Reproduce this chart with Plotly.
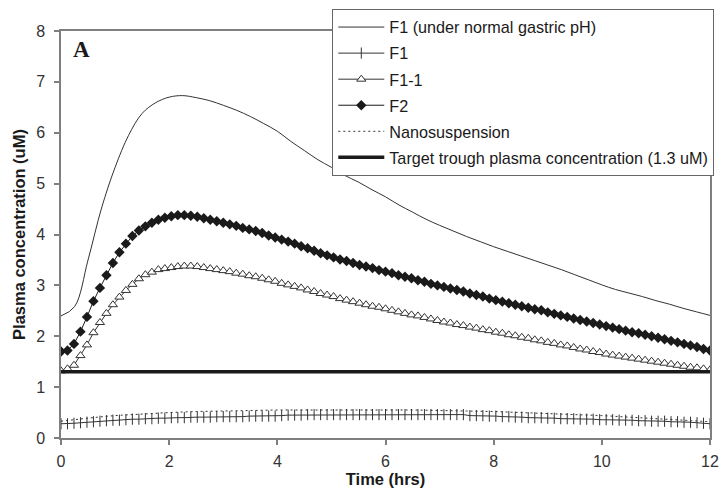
import plotly.graph_objects as go

# time grid (hrs) used for the marker series: 101 samples from 0 to 12
time_hrs = [round(0.12 * i, 2) for i in range(101)]
# time grid for the plain-line series
time_line = [0, 0.25, 0.5, 0.75, 1, 1.25, 1.5, 1.75, 2, 2.25, 2.5, 2.75, 3, 3.25, 3.5,
             3.75, 4, 4.25, 4.5, 4.75, 5, 5.25, 5.5, 5.75, 6, 6.25, 6.5, 6.75, 7, 7.25,
             7.5, 7.75, 8, 8.25, 8.5, 8.75, 9, 9.25, 9.5, 9.75, 10, 10.25, 10.5, 10.75,
             11, 11.25, 11.5, 11.75, 12]

f1_normal = [2.40, 2.58, 3.50, 4.52, 5.32, 5.95, 6.38, 6.59, 6.70, 6.73, 6.69, 6.63, 6.54,
             6.44, 6.32, 6.18, 6.03, 5.83, 5.65, 5.47, 5.32, 5.16, 5.03, 4.88, 4.74, 4.58,
             4.44, 4.30, 4.18, 4.07, 3.96, 3.86, 3.76, 3.67, 3.58, 3.49, 3.40, 3.31, 3.21,
             3.11, 3.01, 2.92, 2.85, 2.78, 2.70, 2.63, 2.55, 2.48, 2.41]

nano_time = [0, 0.5, 1, 1.5, 2, 2.5, 3, 3.5, 4, 4.5, 5, 5.5, 6, 6.5, 7, 7.5, 8, 8.5, 9,
             9.5, 10, 10.5, 11, 11.5, 12]
nanosuspension = [0.33, 0.39, 0.44, 0.47, 0.50, 0.52, 0.53, 0.54, 0.55, 0.55, 0.55, 0.55,
                  0.55, 0.55, 0.54, 0.53, 0.52, 0.50, 0.48, 0.46, 0.44, 0.41, 0.38, 0.35, 0.32]

f1 = [0.28, 0.28, 0.29, 0.30, 0.31, 0.32, 0.33, 0.34, 0.35, 0.35,
      0.36, 0.37, 0.37, 0.38, 0.38, 0.39, 0.39, 0.40, 0.40, 0.40,
      0.41, 0.41, 0.41, 0.41, 0.42, 0.42, 0.42, 0.42, 0.42, 0.43,
      0.43, 0.43, 0.43, 0.43, 0.44, 0.45, 0.45, 0.45, 0.46, 0.46,
      0.46, 0.46, 0.46, 0.46, 0.46, 0.46, 0.46, 0.46, 0.46, 0.46,
      0.46, 0.46, 0.46, 0.46, 0.46, 0.46, 0.46, 0.46, 0.46, 0.46,
      0.46, 0.46, 0.46, 0.44, 0.44, 0.44, 0.43, 0.43, 0.42, 0.42,
      0.41, 0.41, 0.40, 0.40, 0.40, 0.39, 0.39, 0.38, 0.38, 0.38,
      0.37, 0.37, 0.37, 0.36, 0.36, 0.36, 0.35, 0.35, 0.35, 0.34,
      0.34, 0.33, 0.33, 0.33, 0.32, 0.32, 0.31, 0.31, 0.30, 0.29, 0.28]

f1_1 = [1.32, 1.36, 1.43, 1.62, 1.83, 2.07, 2.27, 2.45, 2.62, 2.77,
        2.90, 3.02, 3.13, 3.21, 3.26, 3.31, 3.33, 3.35, 3.37, 3.38,
        3.38, 3.37, 3.35, 3.33, 3.31, 3.29, 3.27, 3.24, 3.22, 3.19,
        3.17, 3.14, 3.11, 3.08, 3.04, 3.01, 2.98, 2.95, 2.91, 2.88,
        2.84, 2.81, 2.78, 2.74, 2.71, 2.68, 2.65, 2.62, 2.59, 2.57,
        2.54, 2.51, 2.48, 2.45, 2.42, 2.40, 2.37, 2.34, 2.31, 2.28,
        2.26, 2.23, 2.21, 2.18, 2.16, 2.13, 2.11, 2.08, 2.06, 2.03,
        2.01, 1.98, 1.96, 1.93, 1.91, 1.88, 1.86, 1.83, 1.81, 1.78,
        1.75, 1.73, 1.70, 1.68, 1.65, 1.63, 1.61, 1.59, 1.57, 1.55,
        1.53, 1.51, 1.49, 1.47, 1.45, 1.43, 1.41, 1.39, 1.38, 1.36, 1.34]

f2 = [1.70, 1.72, 1.85, 2.09, 2.38, 2.69, 2.95, 3.20, 3.44, 3.65,
      3.82, 3.97, 4.08, 4.16, 4.23, 4.29, 4.33, 4.36, 4.38, 4.38,
      4.37, 4.35, 4.32, 4.29, 4.26, 4.23, 4.20, 4.17, 4.13, 4.10,
      4.07, 4.03, 3.98, 3.94, 3.90, 3.86, 3.82, 3.77, 3.73, 3.68,
      3.63, 3.59, 3.55, 3.51, 3.48, 3.44, 3.40, 3.37, 3.34, 3.30,
      3.27, 3.24, 3.20, 3.17, 3.14, 3.10, 3.07, 3.03, 3.00, 2.97,
      2.94, 2.91, 2.88, 2.84, 2.81, 2.78, 2.74, 2.71, 2.68, 2.65,
      2.62, 2.59, 2.56, 2.53, 2.51, 2.47, 2.44, 2.41, 2.38, 2.35,
      2.32, 2.29, 2.26, 2.23, 2.20, 2.17, 2.14, 2.11, 2.08, 2.06,
      2.03, 2.00, 1.97, 1.94, 1.91, 1.88, 1.85, 1.82, 1.79, 1.75, 1.72]

target_time = [0, 12]
target_level = [1.3, 1.3]

series_names = ["F1 (under normal gastric pH)", "F1", "F1-1", "F2", "Nanosuspension",
                "Target trough plasma concentration (1.3 uM)"]

x_ticks = [0, 2, 4, 6, 8, 10, 12]
y_ticks = [0, 1, 2, 3, 4, 5, 6, 7, 8]

FONT = "Liberation Sans, Arial, sans-serif"
INK = "#1a1a1a"

fig = go.Figure()

fig.add_trace(go.Scatter(x=time_line, y=f1_normal, mode="lines", name=series_names[0],
                         legendgroup="g1", line=dict(color="#333333", width=1, shape="spline")))
fig.add_trace(go.Scatter(x=time_hrs, y=f1, mode="lines+markers", name=series_names[1],
                         legendgroup="g2", line=dict(color="#333333", width=1),
                         marker=dict(symbol="line-ns", size=8,
                                     line=dict(color="#333333", width=1))))
fig.add_trace(go.Scatter(x=time_hrs, y=f1_1, mode="lines+markers", name=series_names[2],
                         legendgroup="g3", line=dict(color="#333333", width=1),
                         marker=dict(symbol="triangle-up", size=8, color="white",
                                     line=dict(color="#333333", width=1))))
fig.add_trace(go.Scatter(x=time_hrs, y=f2, mode="lines+markers", name=series_names[3],
                         legendgroup="g4", line=dict(color=INK, width=1),
                         marker=dict(symbol="diamond", size=8, color=INK,
                                     line=dict(color=INK, width=0))))
fig.add_trace(go.Scatter(x=nano_time, y=nanosuspension, mode="lines", name=series_names[4],
                         legendgroup="g5",
                         line=dict(color="#333333", width=1, dash="2px,3px", shape="spline")))
fig.add_trace(go.Scatter(x=target_time, y=target_level, mode="lines", name=series_names[5],
                         legendgroup="g6", line=dict(color=INK, width=3.5)))

axis_common = dict(showline=True, linecolor="#7f7f7f", linewidth=1.5, mirror=True,
                   ticks="outside", ticklen=5, tickcolor="#7f7f7f", tickwidth=1.5,
                   showgrid=False, zeroline=False,
                   tickfont=dict(family=FONT, size=16, color="#333333"))

fig.update_layout(
    width=726, height=489,
    margin=dict(l=61, r=7, t=31, b=49),
    paper_bgcolor="white", plot_bgcolor="white",
    font=dict(family=FONT, color=INK),
    showlegend=True,
    legend=dict(x=0.418, y=1.054, xanchor="left", yanchor="top",
                bgcolor="white", bordercolor="#666666", borderwidth=1,
                font=dict(family=FONT, size=16.2, color=INK),
                traceorder="grouped", tracegroupgap=2, itemwidth=46),
    xaxis=dict(range=[0, 12], tickvals=x_ticks, ticklabelstandoff=3, **axis_common,
               title=dict(text="<b>Time (hrs)</b>", font=dict(family=FONT, size=16.5, color=INK),
                          standoff=0)),
    yaxis=dict(range=[0, 8], tickvals=y_ticks, ticklabelstandoff=6, **axis_common,
               title=dict(text="<b>Plasma concentration (uM)</b>",
                          font=dict(family=FONT, size=16.5, color=INK), standoff=6)),
    annotations=[dict(text="<b>A</b>", x=0.016, y=0.99, xref="paper", yref="paper",
                      xanchor="left", yanchor="top", showarrow=False,
                      font=dict(family="Liberation Serif, Times New Roman, serif",
                                size=23, color=INK))],
)

fig.write_html("out.html")
